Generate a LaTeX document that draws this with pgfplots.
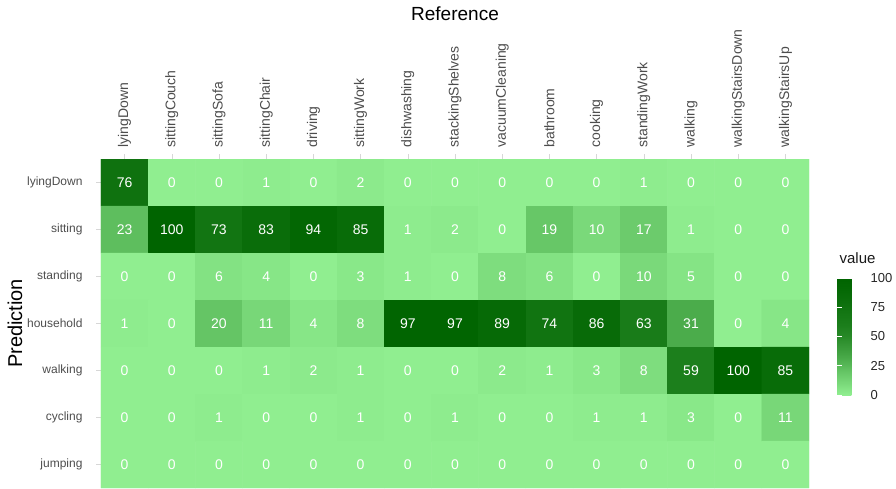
\documentclass[border=0pt]{standalone}
\usepackage{fontspec}
\setmainfont{Liberation Sans}
\usepackage{pgfplots}
\usepackage{pgfplotstable}
\pgfplotsset{compat=1.18}

\definecolor{tickgrey}{RGB}{77,77,77}
\definecolor{tickmark}{RGB}{215,215,215}

% cells: x = reference class, y = predicted class, v = percentage
\pgfplotstableread{
x y v
0 0 76
1 0 0
2 0 0
3 0 1
4 0 0
5 0 2
6 0 0
7 0 0
8 0 0
9 0 0
10 0 0
11 0 1
12 0 0
13 0 0
14 0 0
0 1 23
1 1 100
2 1 73
3 1 83
4 1 94
5 1 85
6 1 1
7 1 2
8 1 0
9 1 19
10 1 10
11 1 17
12 1 1
13 1 0
14 1 0
0 2 0
1 2 0
2 2 6
3 2 4
4 2 0
5 2 3
6 2 1
7 2 0
8 2 8
9 2 6
10 2 0
11 2 10
12 2 5
13 2 0
14 2 0
0 3 1
1 3 0
2 3 20
3 3 11
4 3 4
5 3 8
6 3 97
7 3 97
8 3 89
9 3 74
10 3 86
11 3 63
12 3 31
13 3 0
14 3 4
0 4 0
1 4 0
2 4 0
3 4 1
4 4 2
5 4 1
6 4 0
7 4 0
8 4 2
9 4 1
10 4 3
11 4 8
12 4 59
13 4 100
14 4 85
0 5 0
1 5 0
2 5 1
3 5 0
4 5 0
5 5 1
6 5 0
7 5 1
8 5 0
9 5 0
10 5 1
11 5 1
12 5 3
13 5 0
14 5 11
0 6 0
1 6 0
2 6 0
3 6 0
4 6 0
5 6 0
6 6 0
7 6 0
8 6 0
9 6 0
10 6 0
11 6 0
12 6 0
13 6 0
14 6 0
}\cmdata

\begin{document}
\begin{tikzpicture}
\path[use as bounding box] (0,0) rectangle (896pt,488pt);
\begin{axis}[
  at={(101pt,0pt)}, anchor=south west,
  scale only axis, width=708pt, height=329pt,
  xmin=-0.5, xmax=14.5, ymin=-0.5, ymax=6.5,
  y dir=reverse,
  enlargelimits=false,
  axis line style={draw=none},
  colormap={lgdg}{rgb255(0)=(144,238,144) rgb255(5)=(133,228,133) rgb255(10)=(122,217,122)
    rgb255(15)=(112,207,112) rgb255(20)=(101,197,101) rgb255(25)=(89,186,89)
    rgb255(31)=(75,172,75) rgb255(40)=(58,155,58) rgb255(50)=(40,138,40)
    rgb255(60)=(27,126,27) rgb255(70)=(20,119,20) rgb255(80)=(12,111,12)
    rgb255(90)=(5,105,5) rgb255(100)=(0,100,0)},
  point meta min=0, point meta max=100,
  /pgf/number format/assume math mode=true,
  xtick={0,...,14}, ytick={0,...,6},
  xticklabels={lyingDown,sittingCouch,sittingSofa,sittingChair,driving,sittingWork,dishwashing,stackingShelves,vacuumCleaning,bathroom,cooking,standingWork,walking,walkingStairsDown,walkingStairsUp},
  yticklabels={lyingDown,sitting,standing,household,walking,cycling,jumping},
  xtick pos=upper, xticklabel pos=upper,
  ytick pos=left,
  tick align=outside, major tick length=5pt,
  tick style={tickmark, line width=0.6pt},
  xticklabel style={rotate=90, anchor=west, font=\fontsize{14}{16}\selectfont, text=tickgrey, xshift=3pt},
  yticklabel style={font=\fontsize{12}{14}\selectfont, text=tickgrey, xshift=-10pt},
  xlabel={Reference},
  xlabel style={at={(axis description cs:0.5,1.4407)}, anchor=center, font=\fontsize{19}{21}\selectfont},
  ylabel={Prediction},
  ylabel style={at={(axis description cs:-0.1215,0.5)}, anchor=center, rotate=0, font=\fontsize{20}{22}\selectfont},
  colorbar,
  colorbar style={
    at={(parent axis.south east)}, anchor=south west,
    xshift=19.5pt, yshift=93pt,
    scale only axis, width=26pt, height=117pt,
    ytick={0,25,50,75,100},
    yticklabel pos=right,
    ytick pos=both,
    tick align=inside, major tick length=5pt,
    tick style={white, line width=0.7pt},
    axis line style={draw=none},
    /pgf/number format/assume math mode=true,
    yticklabel style={font=\fontsize{13}{15}\selectfont, text=black!85, xshift=4pt},
    title={value},
    title style={at={(0,1)}, anchor=base west, yshift=9pt, xshift=-1pt, font=\fontsize{15}{17}\selectfont, text=black!90},
  },
]
\addplot[matrix plot*, mesh/cols=15, point meta=explicit] table[x=x, y=y, meta=v] {\cmdata};
\addplot[only marks, mark=none, point meta=explicit,
  nodes near coords={\pgfmathprintnumber[fixed,precision=0]{\pgfplotspointmeta}},
  nodes near coords align=center,
  every node near coord/.append style={anchor=center, text=white, font=\fontsize{14}{16}\selectfont}]
  table[x=x, y=y, meta=v] {\cmdata};
\end{axis}
\end{tikzpicture}
\end{document}
